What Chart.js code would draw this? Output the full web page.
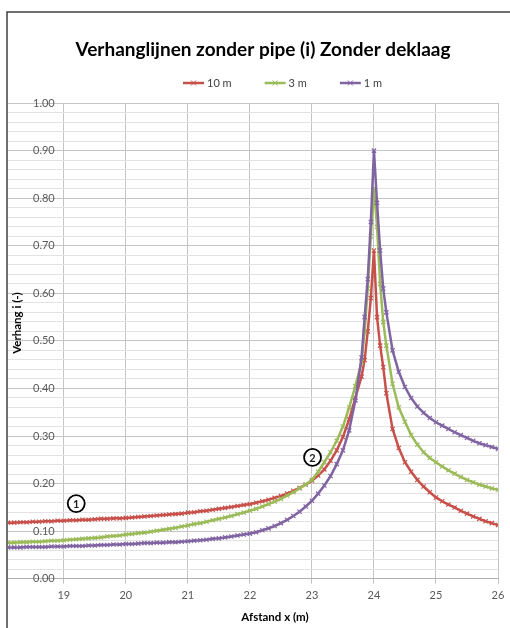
<!DOCTYPE html>
<html>
<head>
<meta charset="utf-8">
<script src="https://cdn.jsdelivr.net/npm/chart.js@4.4.1/dist/chart.umd.min.js"></script>
<style>
    html, body { margin: 0; padding: 0; background: #fff; overflow: hidden; }
    #wrap { width: 510px; height: 628px; }
</style>
</head>
<body>
<div id="wrap"><canvas id="chart" width="510" height="628"></canvas></div>
<script>
// afstand x (m)
const xValues = [
    18.1, 18.2, 18.3, 18.4, 18.5, 18.6, 18.7, 18.8, 18.9, 19.0,
    19.1, 19.2, 19.3, 19.4, 19.5, 19.6, 19.7, 19.8, 19.9, 20.0,
    20.1, 20.2, 20.3, 20.4, 20.5, 20.6, 20.7, 20.8, 20.9, 21.0,
    21.1, 21.2, 21.3, 21.4, 21.5, 21.6, 21.7, 21.8, 21.9, 22.0,
    22.1, 22.2, 22.3, 22.4, 22.5, 22.6, 22.7, 22.8, 22.9, 23.0,
    23.1, 23.2, 23.3, 23.4, 23.5, 23.6, 23.7, 23.8,
    23.85, 23.9, 23.95, 24.0, 24.05, 24.1, 24.15, 24.2,
    24.3, 24.4, 24.5, 24.6, 24.7, 24.8, 24.9, 25.0, 25.1, 25.2,
    25.3, 25.4, 25.5, 25.6, 25.7, 25.8, 25.9, 26.0
];

// verhang i (-)
const i10m = [
    .118, .118, .119, .119, .120, .120, .121, .121, .122, .122,
    .123, .123, .124, .124, .125, .126, .126, .127, .127, .128,
    .129, .130, .131, .132, .133, .134, .135, .136, .137, .139,
    .140, .142, .143, .145, .147, .149, .151, .153, .155, .157,
    .160, .163, .166, .170, .174, .179, .185, .191, .198, .206,
    .217, .230, .248, .270, .298, .335, .380, .425,
    .460, .520, .590, .690, .550, .490, .445, .390,
    .315, .275, .245, .225, .208, .194, .182, .171, .163, .156,
    .150, .143, .137, .131, .126, .121, .117, .113
];
const i3m = [
    .076, .076, .077, .077, .078, .078, .079, .080, .080, .081,
    .082, .083, .084, .085, .086, .087, .089, .090, .091, .093,
    .094, .096, .097, .099, .101, .103, .105, .107, .110, .112,
    .115, .117, .120, .123, .126, .129, .132, .136, .139, .143,
    .147, .152, .157, .162, .168, .175, .182, .190, .198, .208,
    .225, .245, .266, .290, .320, .360, .405, .455,
    .520, .610, .720, .820, .740, .620, .540, .490,
    .410, .360, .330, .302, .282, .266, .254, .245, .236, .228,
    .221, .214, .208, .203, .198, .194, .190, .187
];
const i1m = [
    .066, .066, .066, .067, .067, .067, .067, .068, .068, .068,
    .069, .069, .069, .070, .070, .071, .071, .072, .072, .073,
    .073, .074, .075, .075, .076, .076, .077, .077, .078, .079,
    .080, .081, .082, .084, .085, .087, .089, .091, .093, .095,
    .098, .102, .106, .111, .117, .124, .132, .141, .152, .164,
    .179, .196, .216, .241, .270, .312, .375, .465,
    .550, .630, .750, .900, .790, .690, .610, .560,
    .480, .435, .403, .380, .362, .349, .338, .329, .322, .315,
    .308, .302, .296, .290, .285, .281, .277, .273
];

const seriesNames = ['10 m', '3 m', '1 m'];
const xTicks = [19, 20, 21, 22, 23, 24, 25, 26];
const notes = [
    { label: '1', x: 19.2, y: 0.158 },
    { label: '2', x: 23.01, y: 0.255 }
];

const chartTitle = 'Verhanglijnen zonder pipe (i) Zonder deklaag';
const xTitle = 'Afstand x (m)';
const yTitle = 'Verhang i (-)';

const colors = ['#c8504b', '#9bbb59', '#8064a2'];
const FONT = 'Lato, "Open Sans", sans-serif';

const isMajor = v => Math.round(v * 100) % 10 === 0;
const toPoints = ys => xValues.map((x, k) => ({ x: x, y: ys[k] }));

// frame, title, legend, axis titles and the circled numbers
const chrome = {
    id: 'chrome',
    beforeDraw(chart) {
        const ctx = chart.ctx;
        ctx.save();
        ctx.fillStyle = '#fff';
        ctx.fillRect(0, 0, chart.width, chart.height);
        ctx.restore();
    },
    afterDraw(chart) {
        const ctx = chart.ctx;
        const sx = chart.scales.x, sy = chart.scales.y;
        ctx.save();

        // outer border (cut off on the right/bottom)
        ctx.strokeStyle = '#3f3f3f';
        ctx.lineWidth = 1.5;
        ctx.beginPath();
        ctx.moveTo(7, chart.height);
        ctx.lineTo(7, 12);
        ctx.lineTo(chart.width, 12);
        ctx.stroke();

        // title
        ctx.fillStyle = '#000';
        ctx.textAlign = 'center';
        ctx.textBaseline = 'middle';
        ctx.font = 'bold 19px ' + FONT;
        ctx.fillText(chartTitle, 263, 50);

        // legend
        ctx.font = '11px ' + FONT;
        ctx.textAlign = 'left';
        let lx = 183;
        const ly = 83;
        chart.data.datasets.forEach(ds => {
            ctx.strokeStyle = ds.borderColor;
            ctx.lineWidth = 2.5;
            ctx.beginPath();
            ctx.moveTo(lx, ly);
            ctx.lineTo(lx + 21, ly);
            ctx.stroke();
            ctx.lineWidth = 1;
            ctx.beginPath();
            ctx.moveTo(lx + 8, ly - 2.5); ctx.lineTo(lx + 13, ly + 2.5);
            ctx.moveTo(lx + 13, ly - 2.5); ctx.lineTo(lx + 8, ly + 2.5);
            ctx.stroke();
            ctx.fillStyle = '#404040';
            ctx.fillText(ds.label, lx + 24, ly + 0.5);
            lx += 24 + ctx.measureText(ds.label).width + 33;
        });

        // axis titles
        ctx.fillStyle = '#000';
        ctx.font = 'bold 11.5px ' + FONT;
        ctx.textAlign = 'center';
        ctx.fillText(xTitle, 275, 617);
        ctx.save();
        ctx.translate(17, 323);
        ctx.rotate(-Math.PI / 2);
        ctx.fillText(yTitle, 0, 0);
        ctx.restore();

        // circled numbers
        notes.forEach(n => {
            const px = sx.getPixelForValue(n.x);
            const py = sy.getPixelForValue(n.y);
            ctx.beginPath();
            ctx.arc(px, py, 8.5, 0, Math.PI * 2);
            ctx.fillStyle = '#fff';
            ctx.fill();
            ctx.strokeStyle = '#000';
            ctx.lineWidth = 1.8;
            ctx.stroke();
            ctx.fillStyle = '#1f1f1f';
            ctx.font = 'bold 11px ' + FONT;
            ctx.fillText(n.label, px, py + 0.5);
        });

        ctx.restore();
    }
};

const makeSet = (label, ys, color, order) => ({
    label: label,
    data: toPoints(ys),
    borderColor: color,
    backgroundColor: color,
    borderWidth: 2.5,
    pointStyle: 'crossRot',
    pointRadius: 3,
    pointBorderWidth: 1.2,
    pointBorderColor: color,
    tension: 0,
    order: order
});

new Chart(document.getElementById('chart'), {
    type: 'line',
    data: {
        datasets: [
            makeSet(seriesNames[0], i10m, colors[0], 3),
            makeSet(seriesNames[1], i3m, colors[1], 2),
            makeSet(seriesNames[2], i1m, colors[2], 1)
        ]
    },
    options: {
        responsive: false,
        animation: false,
        layout: { padding: { left: 8, top: 103, right: 12, bottom: 21 } },
        plugins: {
            legend: { display: false },
            title: { display: false },
            tooltip: { enabled: false }
        },
        scales: {
            x: {
                type: 'linear',
                min: 18.1,
                max: 26,
                afterBuildTicks: s => { s.ticks = xTicks.map(v => ({ value: v })); },
                grid: { color: '#c4c4c4', tickLength: 5 },
                border: { color: '#b0b0b0' },
                ticks: {
                    color: '#595959',
                    font: { family: FONT, size: 11 },
                    padding: 5,
                    autoSkip: false,
                    maxRotation: 0
                }
            },
            y: {
                min: 0,
                max: 1,
                afterFit: s => { s.width = 0; },
                border: { display: false },
                grid: {
                    drawTicks: false,
                    color: c => isMajor(c.tick.value) ? '#c4c4c4' : '#e2e2e2'
                },
                ticks: {
                    stepSize: 0.02,
                    maxTicksLimit: 80,
                    autoSkip: false,
                    mirror: true,
                    padding: 25,
                    color: '#595959',
                    font: { family: FONT, size: 11 },
                    callback: v => isMajor(v) ? v.toFixed(2) : ''
                }
            }
        }
    },
    plugins: [chrome]
});
</script>
</body>
</html>
